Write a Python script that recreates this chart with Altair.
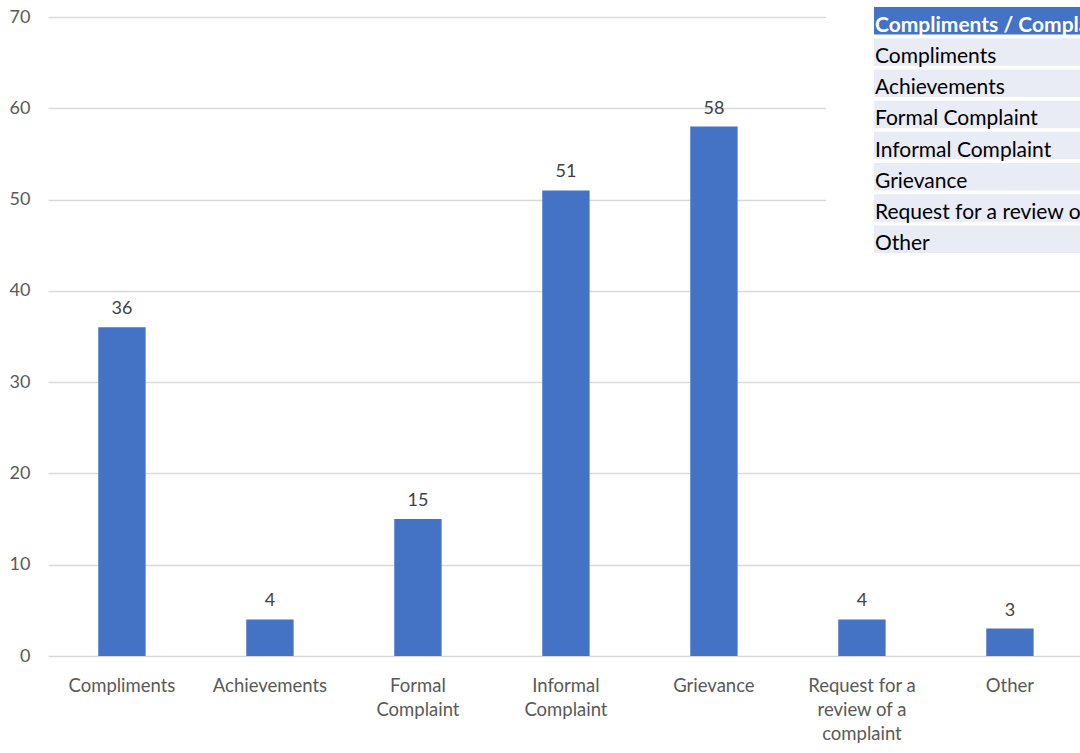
import altair as alt
import pandas as pd

categories = ["Compliments", "Achievements", "Formal Complaint", "Informal Complaint",
              "Grievance", "Request for a review of a complaint", "Other"]
values = [36, 4, 15, 51, 58, 4, 3]
tick_labels = ["Compliments", "Achievements", "Formal|Complaint", "Informal|Complaint",
               "Grievance", "Request for a|review of a|complaint", "Other"]
table_header = "Compliments / Complaints"
table_rows = ["Compliments", "Achievements", "Formal Complaint", "Informal Complaint",
              "Grievance", "Request for a review of a complaint", "Other"]

FONT = "Lato"
BLUE = "#4472C4"

df = pd.DataFrame({"category": categories, "value": values})

label_map = "{" + ",".join(f"'{c}':'{t}'" for c, t in zip(categories, tick_labels)) + "}"

x_enc = alt.X("category:N", sort=categories,
              scale=alt.Scale(paddingInner=0.68, paddingOuter=0.3265, align=0.52),
              axis=alt.Axis(title=None, labelAngle=0, ticks=False, domain=False,
                            labelExpr=f"split({label_map}[datum.value], '|')",
                            labelFont=FONT, labelFontSize=18.5, labelColor="#595959",
                            labelPadding=20, labelLineHeight=24, labelBaseline="top"))
y_enc = alt.Y("value:Q", scale=alt.Scale(domain=[0, 70]),
              axis=alt.Axis(title=None, values=list(range(0, 71, 10)), ticks=False, domain=False,
                            labelFont=FONT, labelFontSize=18, labelColor="#595959",
                            labelPadding=18, gridColor="#D9D9D9", gridWidth=1.3))

bars = alt.Chart(df).mark_bar(color=BLUE).encode(x=x_enc, y=y_enc)
labels = alt.Chart(df).mark_text(dy=-18, font=FONT, fontSize=18, color="#404040",
                                 baseline="middle").encode(
    x=alt.X("category:N", sort=categories), y="value:Q", text="value:Q")

# white backing of the overlaid table
cover = alt.Chart(pd.DataFrame({"a": [0]})).mark_rect(color="white").encode(
    x=alt.value(778), x2=alt.value(1040), y=alt.value(-17), y2=alt.value(242))

tdf = pd.DataFrame({
    "row": list(range(len(table_rows) + 1)),
    "text": [table_header] + table_rows,
    "kind": ["header"] + ["body"] * len(table_rows),
})
row_y = alt.Y("row:O", scale=alt.Scale(range=[-10, 236], paddingInner=0.12, paddingOuter=0),
              axis=None)
trects = alt.Chart(tdf).mark_rect().encode(
    x=alt.value(826), x2=alt.value(1040), y=row_y,
    color=alt.Color("kind:N", scale=alt.Scale(domain=["header", "body"],
                                              range=[BLUE, "#E9EBF5"]), legend=None))
ttext_body = alt.Chart(tdf).transform_filter("datum.kind == 'body'").mark_text(
    align="left", baseline="alphabetic", font=FONT, fontSize=21, color="#000000", dy=11).encode(
    x=alt.value(827), y=row_y, text="text:N")
ttext_head = alt.Chart(tdf).transform_filter("datum.kind == 'header'").mark_text(
    align="left", baseline="alphabetic", font=FONT, fontSize=21, fontWeight="bold",
    color="#FFFFFF", dy=11).encode(
    x=alt.value(827), y=row_y, text="text:N")

base = alt.layer(bars, labels)
table = alt.layer(cover, trects, ttext_body, ttext_head)

chart = alt.layer(base, table).resolve_scale(y="independent", color="independent").properties(
    width=1032, height=639,
    padding={"left": 48, "top": 17, "right": 0, "bottom": 97},
    autosize=alt.AutoSizeParams(type="none"),
    background="white",
).configure_view(stroke=None)

chart.save("out.html", embed_options={"renderer": "svg", "actions": False})
